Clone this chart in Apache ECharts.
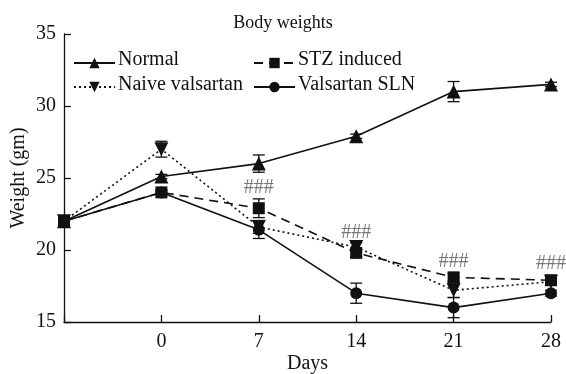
<!DOCTYPE html>
<html>
<head>
<meta charset="utf-8">
<script src="https://cdn.jsdelivr.net/npm/echarts@6/dist/echarts.min.js"></script>
<style>
  html, body { margin: 0; padding: 0; background: #fff; }
  #chart { width: 566px; height: 374px; }
</style>
</head>
<body>
<div id="chart"></div>
<script>
// Study days (day -7 is the baseline, unlabeled)
const days = [-7, 0, 7, 14, 21, 28];
const dayLabels = ['', '0', '7', '14', '21', '28'];

// Group names
const groups = ['Normal', 'STZ induced', 'Naive valsartan', 'Valsartan SLN'];

// Mean body weight (gm) per group
const normal = [22, 25.1, 26.0, 27.9, 31.0, 31.5];
const stz    = [22, 24.0, 22.9, 19.8, 18.1, 17.9];
const naive  = [22, 27.0, 21.6, 20.2, 17.2, 17.8];
const sln    = [22, 24.0, 21.4, 17.0, 16.0, 17.0];

// Error (± gm) per group
const normalErr = [0, 0.15, 0.6, 0.15, 0.7, 0.15];
const stzErr    = [0, 0.15, 0.65, 0.3, 0.3, 0.2];
const naiveErr  = [0, 0.55, 0.45, 0.3, 0.5, 0.2];
const slnErr    = [0, 0.15, 0.6, 0.7, 0.7, 0.2];

// Significance markers (###) vs. normal
const hashDays = [7, 14, 21, 28];
const hashY    = [24.3, 21.2, 19.2, 19.05];
const hashText = '###';

const FONT = 'Liberation Serif';
const downTri = 'path://M0,0 L10,0 L5,9 Z';

function pairs(ys) { return days.map((d, i) => [d, ys[i]]); }

function errorSeries(ys, errs) {
  return {
    type: 'custom',
    silent: true,
    z: 1,
    data: days.map((d, i) => [d, ys[i], errs[i]]),
    renderItem: function (params, api) {
      const x = api.value(0), y = api.value(1), e = api.value(2);
      if (!e) return null;
      const hi = api.coord([x, y + e]);
      const lo = api.coord([x, y - e]);
      const w = 6;
      const style = { stroke: '#111', lineWidth: 1.3 };
      return {
        type: 'group',
        children: [
          { type: 'line', shape: { x1: hi[0], y1: hi[1], x2: lo[0], y2: lo[1] }, style: style },
          { type: 'line', shape: { x1: hi[0] - w, y1: hi[1], x2: hi[0] + w, y2: hi[1] }, style: style },
          { type: 'line', shape: { x1: lo[0] - w, y1: lo[1], x2: lo[0] + w, y2: lo[1] }, style: style }
        ]
      };
    }
  };
}

function lineSeries(name, ys, symbol, size, type) {
  return {
    name: name,
    type: 'line',
    z: 3,
    data: pairs(ys),
    symbol: symbol,
    symbolSize: size,
    showAllSymbol: true,
    lineStyle: { color: '#111', width: 1.6, type: type },
    itemStyle: { color: '#111' },
    emphasis: { disabled: true },
    animation: false
  };
}

// Legend keys come from the legend component; their serif captions are set as text elements
function legendBox(names, left) {
  return {
    data: names,
    orient: 'vertical',
    left: left, top: 48,
    itemWidth: 41, itemHeight: 13, itemGap: 4,
    formatter: function () { return ' '; },
    textStyle: { fontSize: 20, color: '#111' }
  };
}

function caption(text, x, y) {
  return {
    type: 'text',
    left: x, top: y,
    style: { text: text, fontFamily: FONT, fontSize: 20, fontWeight: 'normal', fill: '#111' }
  };
}

const chart = echarts.init(document.getElementById('chart'), null, { renderer: 'canvas' });

chart.setOption({
  animation: false,
  backgroundColor: '#fff',
  textStyle: { fontFamily: FONT, color: '#111' },
  title: {
    text: 'Body weights',
    left: 'center',
    top: 9,
    textStyle: { fontFamily: FONT, fontWeight: 'normal', fontSize: 18, color: '#111' }
  },
  legend: [
    legendBox([groups[0], groups[2]], 68),
    legendBox([groups[1], groups[3]], 248)
  ],
  graphic: [
    caption(groups[0], 118, 50),
    caption(groups[2], 118, 75),
    caption(groups[1], 298, 50),
    caption(groups[3], 298, 75)
  ],
  grid: { left: 64, right: 15, top: 34, bottom: 52, outerBoundsMode: 'none', containLabel: false },
  xAxis: {
    type: 'value',
    min: -7, max: 28, interval: 7,
    name: 'Days',
    nameLocation: 'middle',
    nameGap: 32,
    nameMoveOverlap: false,
    nameTextStyle: { fontFamily: FONT, fontSize: 20, color: '#111' },
    axisLine: { onZero: false, lineStyle: { color: '#111', width: 1.3 } },
    axisTick: { inside: true, length: 7, lineStyle: { color: '#111', width: 1.3 } },
    axisLabel: {
      fontFamily: FONT, fontSize: 20, color: '#111', margin: 10,
      formatter: function (v) { const i = days.indexOf(v); return i >= 0 ? dayLabels[i] : ''; }
    },
    splitLine: { show: false }
  },
  yAxis: {
    type: 'value',
    min: 15, max: 35, interval: 5,
    name: 'Weight (gm)',
    nameLocation: 'middle',
    nameGap: 35,
    nameMoveOverlap: false,
    nameTextStyle: { fontFamily: FONT, fontSize: 20, color: '#111' },
    axisLine: { show: true, onZero: false, lineStyle: { color: '#111', width: 1.3 } },
    axisTick: { show: true, inside: true, length: 7, lineStyle: { color: '#111', width: 1.3 } },
    axisLabel: { fontFamily: FONT, fontSize: 20, color: '#111', margin: 8 },
    splitLine: { show: false }
  },
  series: [
    errorSeries(normal, normalErr),
    errorSeries(stz, stzErr),
    errorSeries(naive, naiveErr),
    errorSeries(sln, slnErr),
    lineSeries(groups[0], normal, 'triangle', 14, 'solid'),
    lineSeries(groups[1], stz, 'rect', 12, [9, 6]),
    lineSeries(groups[2], naive, downTri, 14, [2, 3]),
    lineSeries(groups[3], sln, 'circle', 12, 'solid'),
    {
      type: 'scatter',
      silent: true,
      symbolSize: 0,
      z: 4,
      data: hashDays.map((d, i) => [d, hashY[i]]),
      label: {
        show: true,
        position: 'inside',
        formatter: hashText,
        fontFamily: FONT,
        fontSize: 20,
        color: '#555'
      }
    }
  ]
});
</script>
</body>
</html>
